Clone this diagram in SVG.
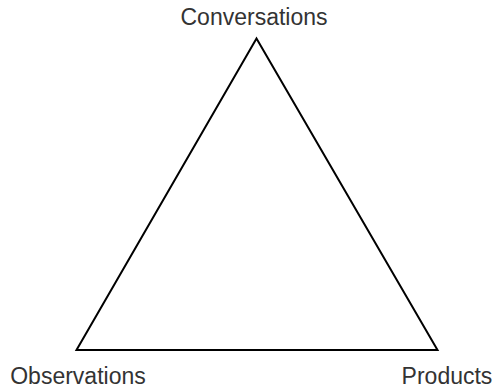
<svg xmlns="http://www.w3.org/2000/svg" width="496" height="389" viewBox="0 0 496 389">
<style>
text{font-family:"Liberation Sans",Arial,sans-serif;font-size:23px;fill:#333}
.edge{fill:none;stroke:#000;stroke-width:2;stroke-linejoin:miter}
</style>
<rect width="496" height="389" fill="#fff"/>
<g id="connectors">
<polygon class="edge" points="256.5,38.5 76.5,350 437.5,350"/>
</g>
<g id="conversations"><text x="254" y="25" text-anchor="middle">Conversations</text></g>
<g id="observations"><text x="78" y="384" text-anchor="middle">Observations</text></g>
<g id="products"><text x="447" y="384" text-anchor="middle">Products</text></g>
</svg>
